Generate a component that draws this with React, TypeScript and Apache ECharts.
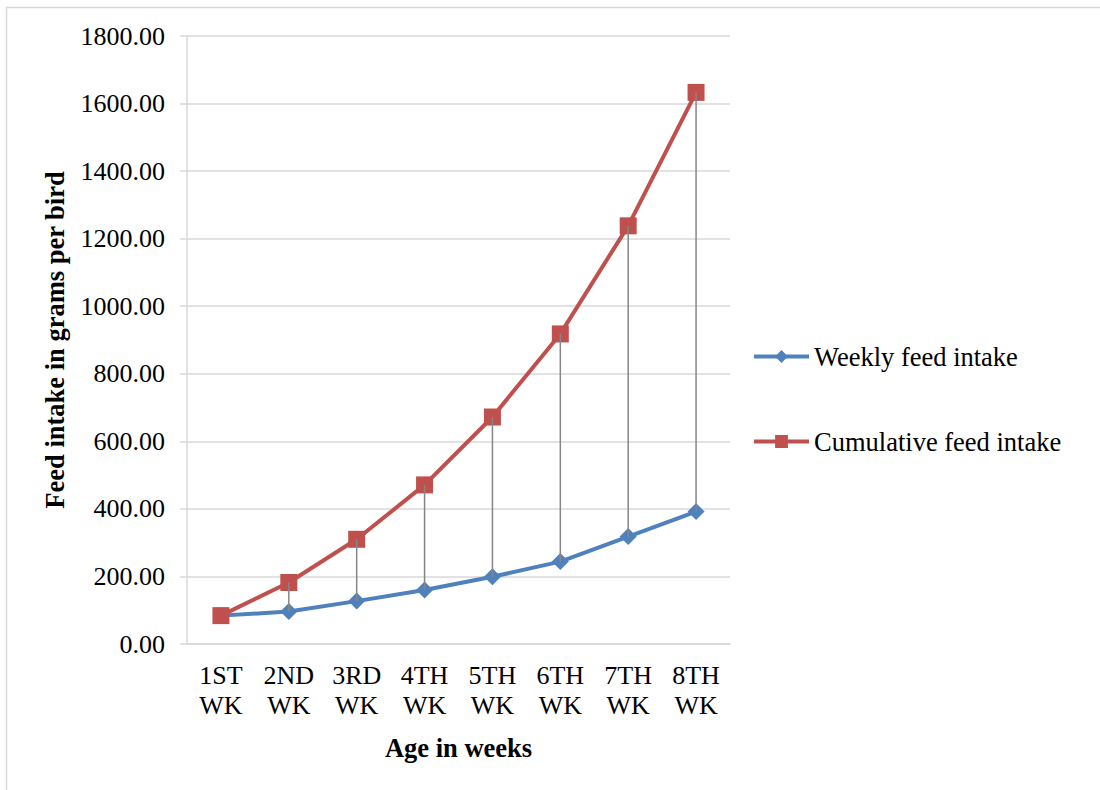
import React, { useEffect, useRef } from "react";
import * as echarts from "echarts";

const categories = ["1ST\nWK", "2ND\nWK", "3RD\nWK", "4TH\nWK", "5TH\nWK", "6TH\nWK", "7TH\nWK", "8TH\nWK"];
const weeklyIntake = [84, 96, 127, 160, 199, 244, 318, 392];
const cumulativeIntake = [84, 182, 310, 471, 672, 918, 1238, 1633];
const yTicks = { min: 0, max: 1800, interval: 200 };

const FONT = '"Liberation Serif", "Times New Roman", serif';

export default function App() {
  const ref = useRef<HTMLDivElement>(null);
  useEffect(() => {
    document.body.style.margin = "0";
    const chart = echarts.init(ref.current!, null, { renderer: "svg" });
    const hiLo = weeklyIntake.map((w, i) => [i, w, cumulativeIntake[i]]);
    chart.setOption({
      animation: false,
      textStyle: { fontFamily: FONT },
      graphic: [
        {
          type: "line",
          shape: { x1: 6, y1: 7.5, x2: 1100, y2: 7.5 },
          style: { stroke: "#d9d9d9", lineWidth: 1.5 },
          silent: true,
        },
        {
          type: "line",
          shape: { x1: 6.5, y1: 7, x2: 6.5, y2: 790 },
          style: { stroke: "#d9d9d9", lineWidth: 1.5 },
          silent: true,
        },
      ],
      grid: { left: 187, right: 370, top: 36, bottom: 146 },
      legend: {
        data: ["Weekly feed intake", "Cumulative feed intake"],
        orient: "vertical",
        left: 747,
        top: 338,
        itemWidth: 55,
        itemHeight: 16,
        itemGap: 58,
        lineStyle: { width: 4 },
        textStyle: { fontFamily: FONT, fontSize: 26.5, color: "#000" },
      },
      xAxis: {
        type: "category",
        data: categories,
        boundaryGap: true,
        name: "Age in weeks",
        nameLocation: "middle",
        nameGap: 90,
        nameTextStyle: { fontFamily: FONT, fontSize: 26.5, fontWeight: "bold", color: "#000" },
        axisLine: { lineStyle: { color: "#d9d9d9", width: 1.5 } },
        axisTick: { show: false },
        axisLabel: { fontFamily: FONT, fontSize: 26, color: "#000", lineHeight: 30, margin: 16, interval: 0 },
      },
      yAxis: {
        type: "value",
        min: yTicks.min,
        max: yTicks.max,
        interval: yTicks.interval,
        name: "Feed intake in grams per bird",
        nameLocation: "middle",
        nameGap: 119,
        nameTextStyle: { fontFamily: FONT, fontSize: 26.5, fontWeight: "bold", color: "#000" },
        axisLine: { show: true, lineStyle: { color: "#d9d9d9", width: 1.5 } },
        axisTick: { show: true, length: 7, lineStyle: { color: "#d9d9d9", width: 1.5 } },
        splitLine: { lineStyle: { color: "#d9d9d9", width: 1.5 } },
        axisLabel: {
          fontFamily: FONT,
          fontSize: 26,
          color: "#000",
          margin: 22,
          formatter: (v: number) => v.toFixed(2),
        },
      },
      series: [
        {
          name: "Weekly feed intake",
          type: "line",
          data: weeklyIntake,
          color: "#4f81bd",
          lineStyle: { width: 4, color: "#4f81bd" },
          symbol: "diamond",
          symbolSize: 17,
          itemStyle: { color: "#4f81bd" },
          z: 2,
        },
        {
          name: "Cumulative feed intake",
          type: "line",
          data: cumulativeIntake,
          color: "#c0504d",
          lineStyle: { width: 4, color: "#c0504d" },
          symbol: "rect",
          symbolSize: 17,
          itemStyle: { color: "#c0504d" },
          z: 3,
        },
        {
          name: "hilo",
          type: "custom",
          data: hiLo,
          encode: { x: 0, y: [1, 2] },
          z: 4,
          silent: true,
          renderItem: (params: any, api: any) => {
            const p1 = api.coord([api.value(0), api.value(1)]);
            const p2 = api.coord([api.value(0), api.value(2)]);
            return {
              type: "line",
              shape: { x1: p1[0], y1: p1[1], x2: p2[0], y2: p2[1] },
              style: { stroke: "#868686", lineWidth: 1.5 },
            };
          },
        },
      ],
    });
    return () => chart.dispose();
  }, []);
  return <div ref={ref} style={{ width: 1100, height: 790 }} />;
}
